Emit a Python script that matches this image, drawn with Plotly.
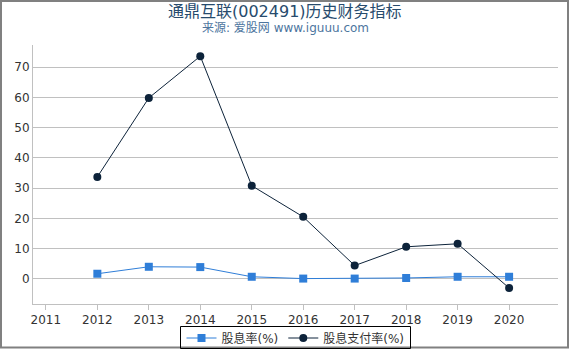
import plotly.graph_objects as go

years = [2012, 2013, 2014, 2015, 2016, 2017, 2018, 2019, 2020]
dividend_yield = [1.7, 4.0, 3.9, 0.7, 0.1, 0.1, 0.3, 0.7, 0.7]
payout_ratio = [33.7, 59.8, 73.6, 30.8, 20.5, 4.4, 10.6, 11.6, -3.0]
x_ticks = [2011, 2012, 2013, 2014, 2015, 2016, 2017, 2018, 2019, 2020]
y_ticks = [0, 10, 20, 30, 40, 50, 60, 70]

W, H = 570, 350
ml, mr, mt, mb = 33, 12, 45, 46
pw, ph = W - ml - mr, H - mt - mb


def py(ypix):
    return (H - mb - ypix) / ph


def px(xpix):
    return (xpix - ml) / pw


fig = go.Figure()
fig.add_trace(go.Scatter(
    x=years, y=dividend_yield, name="股息率(%)", mode="lines+markers",
    line=dict(color="#2f7ed8", width=1),
    marker=dict(symbol="square", size=8, color="#2f7ed8"),
))
fig.add_trace(go.Scatter(
    x=years, y=payout_ratio, name="股息支付率(%)", mode="lines+markers",
    line=dict(color="#0d233a", width=1),
    marker=dict(symbol="circle", size=8, color="#0d233a"),
))

font_family = "DejaVu Sans, Noto Sans CJK SC, sans-serif"
fig.update_layout(
    width=W, height=H,
    margin=dict(l=ml, r=mr, t=mt, b=mb, autoexpand=False),
    paper_bgcolor="white", plot_bgcolor="white",
    font=dict(family=font_family, size=12, color="#333333"),
    showlegend=True,
    legend=dict(
        orientation="h", x=0.5, xanchor="center", y=py(338), yanchor="middle",
        bgcolor="rgba(0,0,0,0)", borderwidth=0, font=dict(size=12, color="#333333"),
        itemwidth=30, tracegroupgap=0,
    ),
    xaxis=dict(
        range=[2010.75, 2020.95], tickvals=x_ticks, ticktext=[str(t) for t in x_ticks],
        showgrid=False, showline=True, linecolor="#C0C0C0", linewidth=1,
        ticks="outside", ticklen=5, tickcolor="#C0C0C0", zeroline=False,
        tickfont=dict(size=12, color="#333333"),
    ),
    yaxis=dict(
        range=[-8.3, 77.3], tickvals=y_ticks, showgrid=True, gridcolor="#C0C0C0",
        showline=True, linecolor="#C0C0C0", linewidth=1, zeroline=False,
        ticks="", tickfont=dict(size=12, color="#333333"),
    ),
)

fig.add_annotation(text="通鼎互联(002491)历史财务指标", x=px(285), y=py(11), xref="paper", yref="paper",
                   showarrow=False, xanchor="center", yanchor="middle",
                   font=dict(size=16, color="#274b6d"))
fig.add_annotation(text="来源: 爱股网 www.iguuu.com", x=px(285), y=py(28), xref="paper", yref="paper",
                   showarrow=False, xanchor="center", yanchor="middle",
                   font=dict(size=12, color="#4d759e"))
# outer chart border
fig.add_shape(type="rect", xref="paper", yref="paper",
              x0=px(1), x1=px(568), y0=py(347.5), y1=py(1),
              line=dict(color="#808080", width=2), layer="below")
# legend border
fig.add_shape(type="rect", xref="paper", yref="paper",
              x0=px(180.5), x1=px(410.5), y0=py(348.5), y1=py(326.5),
              line=dict(color="#000000", width=1), layer="below")

fig.write_html("out.html")
